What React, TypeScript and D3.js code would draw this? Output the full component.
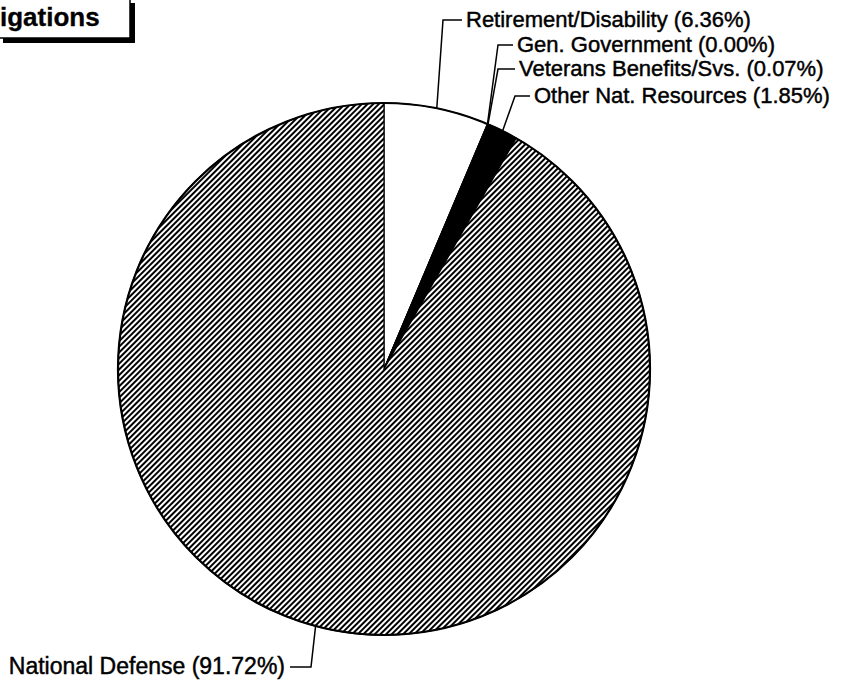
import React from "react";
import * as d3 from "d3";

const categories = [
  "Retirement/Disability",
  "Gen. Government",
  "Veterans Benefits/Svs.",
  "Other Nat. Resources",
  "National Defense",
];
const percents = [6.36, 0.0, 0.07, 1.85, 91.72];
const fills = ["#ffffff", "#ffffff", "#ffffff", "#000000", "url(#hatch)"];
const titleText = "igations";

// label layout (text anchor point + elbow of leader)
const labelLayout = [
  { tx: 466, ty: 27, ex: 443, anchor: "start", fs: 22 },
  { tx: 517, ty: 52, ex: 498, anchor: "start", fs: 22 },
  { tx: 519, ty: 76, ex: 498, anchor: "start", fs: 22 },
  { tx: 534, ty: 103, ex: 515, anchor: "start", fs: 22 },
  { tx: 285, ty: 674, ex: 311, anchor: "end", fs: 23 },
];

const W = 848;
const H = 680;
const cx = 384;
const cy = 369;
const R = 266;

export default function App() {
  const pie = d3
    .pie<number>()
    .sort(null)
    .value((d) => d)
    .startAngle(0)
    .endAngle(2 * Math.PI);
  const arcs = pie(percents);
  const arc = d3.arc<d3.PieArcDatum<number>>().innerRadius(0).outerRadius(R);
  const edge = d3.arc<d3.PieArcDatum<number>>().innerRadius(R).outerRadius(R);
  const font = "'Liberation Sans', Arial, sans-serif";

  return (
    <svg
      width={W}
      height={H}
      viewBox={`0 0 ${W} ${H}`}
      style={{ position: "absolute", left: 0, top: 0, background: "#fff" }}
    >
      <defs>
        <pattern
          id="hatch"
          width={4}
          height={4}
          patternUnits="userSpaceOnUse"
          patternTransform="rotate(45)"
        >
          <rect x={0} y={0} width={4} height={4} fill="#fff" />
          <rect x={0} y={0} width={2} height={4} fill="#000" />
        </pattern>
      </defs>
      <rect x={0} y={0} width={W} height={H} fill="#fff" />

      {/* title box */}
      <rect x={3} y={3} width={132} height={40} fill="#000" />
      <rect x={-3} y={-3} width={133} height={41} fill="#fff" stroke="#000" strokeWidth={1.5} />
      <text
        x={0}
        y={26}
        fontFamily={font}
        fontWeight="bold"
        fontSize={26}
        fill="#000"
        stroke="#000"
        strokeWidth={0.3}
      >
        {titleText}
      </text>

      <g transform={`translate(${cx},${cy})`}>
        {arcs.map((a, i) => (
          <path key={i} d={arc(a) || ""} fill={fills[i]} stroke="#000" strokeWidth={1.2} />
        ))}
        <circle r={R} fill="none" stroke="#000" strokeWidth={2.2} />
      </g>

      {arcs.map((a, i) => {
        const [px, py] = edge.centroid(a);
        const L = labelLayout[i];
        const ly = L.ty - 7;
        const hx = L.anchor === "start" ? L.tx - 4 : L.tx + 5;
        const pts = [
          [cx + px, cy + py],
          [L.ex, ly],
          [hx, ly],
        ];
        return (
          <g key={"l" + i}>
            <polyline
              points={pts.map((p) => p.join(",")).join(" ")}
              fill="none"
              stroke="#000"
              strokeWidth={1.5}
            />
            <text
              x={L.tx}
              y={L.ty}
              textAnchor={L.anchor as any}
              fontFamily={font}
              fontSize={L.fs}
              fill="#000"
              stroke="#000"
              strokeWidth={0.45}
            >
              {`${categories[i]} (${percents[i].toFixed(2)}%)`}
            </text>
          </g>
        );
      })}
    </svg>
  );
}
